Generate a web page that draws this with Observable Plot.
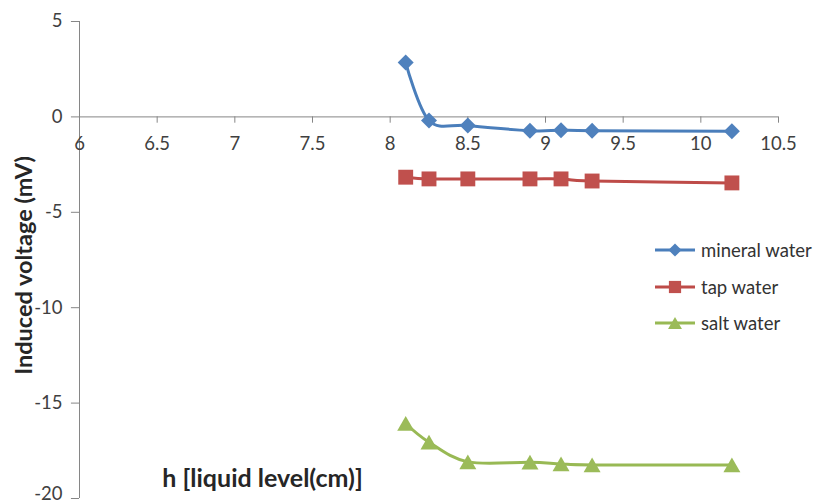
<!DOCTYPE html>
<html><head><meta charset="utf-8">
<script src="https://cdn.jsdelivr.net/npm/d3@7"></script>
<script src="https://cdn.jsdelivr.net/npm/@observablehq/plot@0.6"></script>
<style>
html,body{margin:0;padding:0;background:#fff;}
#wrap{position:relative;width:814px;height:504px;overflow:hidden;font-family:Lato, sans-serif;}
#legend{position:absolute;left:652px;top:231.6px;}
.row{display:flex;align-items:center;height:36.7px;font-size:18.5px;color:#333;white-space:nowrap;}
.row svg{display:block;margin-right:3px;}
</style></head><body><div id="wrap"></div>
<script>
// ---- data ----
const h = [8.1, 8.25, 8.5, 8.9, 9.1, 9.3, 10.2];
const mineral = [2.85, -0.19, -0.45, -0.72, -0.7, -0.72, -0.75];
const tap = [-3.16, -3.25, -3.25, -3.25, -3.25, -3.36, -3.46];
const salt = [-16.07, -17.05, -18.08, -18.1, -18.19, -18.24, -18.24];
const seriesNames = ["mineral water", "tap water", "salt water"];
const xTicks = [6, 6.5, 7, 7.5, 8, 8.5, 9, 9.5, 10, 10.5];
const yTicks = [5, 0, -5, -10, -15, -20];
const xTitle = "h [liquid level(cm)]";
const yTitle = "Induced voltage (mV)";

// ---- styles ----
const seriesVals = [mineral, tap, salt];
const lineColors = ["#4A7EBB", "#BE4B48", "#98B954"];
const markColors = ["#4F81BD", "#C0504D", "#9BBB59"];
const symbols = ["diamond2", "square", "triangle"];
const radii = [7.2, 8.4, 6.3];
const dys = [0, 0, 2.4];
const axisGray = "#868686";

const series = seriesNames.map((name, k) => h.map((x, i) => ({series: name, h: x, v: seriesVals[k][i]})));
const yMin = d3.min(yTicks);

const marks = [
  Plot.ruleY([0], {x1: 6, x2: 10.5, stroke: axisGray, strokeWidth: 1}),
  Plot.ruleX([6], {y1: -20, y2: 5, stroke: axisGray, strokeWidth: 1}),
  Plot.ruleX(xTicks, {x: d => d, y1: 0, y2: -0.33, stroke: axisGray}),
  Plot.ruleY(yTicks, {y: d => d, x1: 6, x2: 5.948, stroke: axisGray}),
  Plot.text(xTicks, {x: d => d, y: 0, dy: 27, text: d => String(d), fill: "#404040"}),
  Plot.text(yTicks.filter(d => d !== yMin), {x: 6, y: d => d, dx: -17, textAnchor: "end", text: d => String(d), fill: "#404040"}),
  Plot.text([yMin], {x: 6, y: d => d, dx: -17, dy: -4, textAnchor: "end", text: d => String(d), fill: "#404040"}),
  Plot.text([xTitle], {frameAnchor: "bottom-left", dx: 183, dy: -12, textAnchor: "middle", fontWeight: "bold", fontSize: 25, fill: "#262626"}),
  Plot.text([yTitle], {frameAnchor: "left", dx: -55, dy: 5.5, rotate: -90, textAnchor: "middle", fontWeight: "bold", fontSize: 23.5, fill: "#262626"})
];
series.forEach((data, k) => {
  marks.push(Plot.line(data, {x: "h", y: "v", stroke: lineColors[k], strokeWidth: 3, curve: "cardinal"}));
  marks.push(Plot.dot(data, {x: "h", y: "v", symbol: symbols[k], r: radii[k], fill: markColors[k], stroke: "none", dy: dys[k]}));
});

const chart = Plot.plot({
  width: 814, height: 504,
  marginLeft: 79, marginRight: 36, marginTop: 21, marginBottom: 6,
  style: {fontFamily: "Lato, sans-serif", fontSize: "18.5px", background: "white", overflow: "hidden"},
  x: {domain: [6, 10.5], axis: null},
  y: {domain: [-20, 5], axis: null},
  marks
});
const wrap = document.getElementById("wrap");
wrap.appendChild(chart);

// ---- legend ----
const legend = document.createElement("div");
legend.id = "legend";
const symMap = {diamond2: d3.symbolDiamond2, square: d3.symbolSquare, triangle: d3.symbolTriangle};
seriesNames.forEach((name, k) => {
  const row = document.createElement("div");
  row.className = "row";
  const r = radii[k] * 0.82;
  const path = d3.symbol(symMap[symbols[k]], Math.PI * r * r)();
  row.innerHTML = `<svg width="46" height="20" viewBox="0 0 46 20">
    <line x1="3" x2="43" y1="10" y2="10" stroke="${lineColors[k]}" stroke-width="3"/>
    <path d="${path}" transform="translate(23,${10 + dys[k] * 0.82})" fill="${markColors[k]}"/>
  </svg><span>${name}</span>`;
  legend.appendChild(row);
});
wrap.appendChild(legend);
</script>
</body></html>
